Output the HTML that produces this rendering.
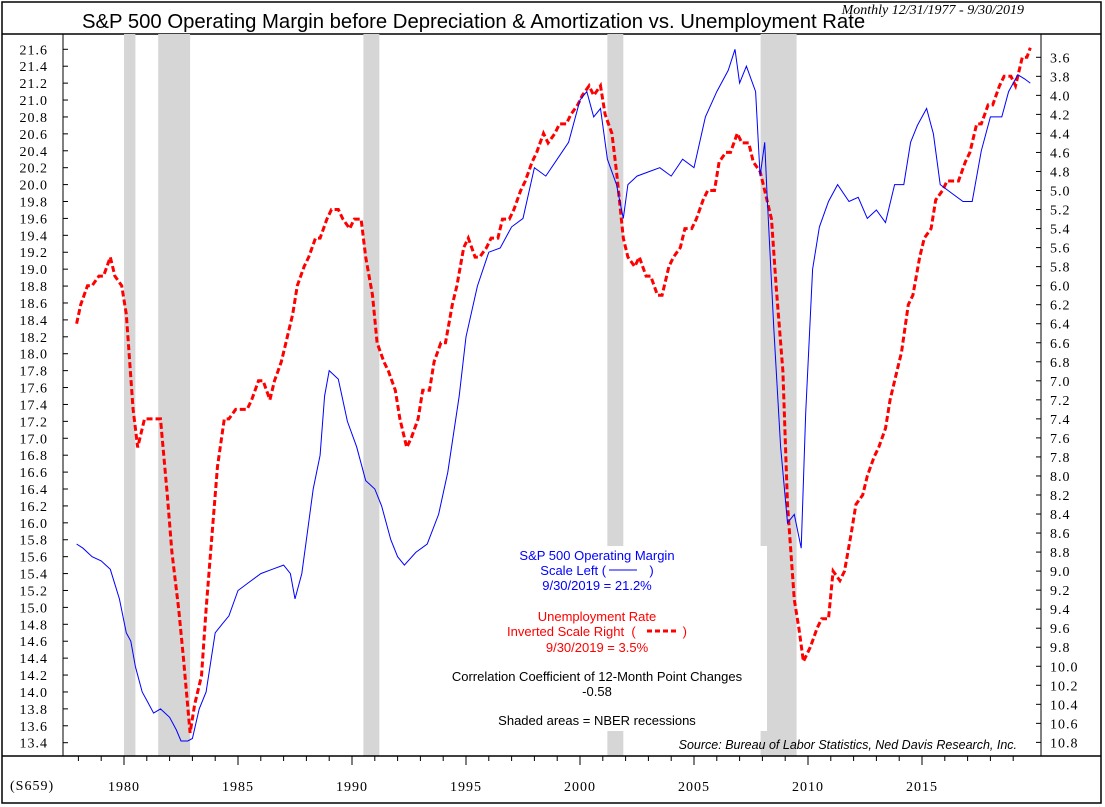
<!DOCTYPE html>
<html><head><meta charset="utf-8"><style>
body{margin:0;background:#fff;}
svg{display:block;}
.ax{font-family:"Liberation Serif",serif;font-size:14px;fill:#000;letter-spacing:1px}
.s{font-family:"Liberation Sans",sans-serif;font-size:13px}
.pre{white-space:pre}
</style></head><body>
<svg id="c" width="1105" height="807" xmlns="http://www.w3.org/2000/svg">
<rect x="2" y="2" width="1099" height="801" fill="#fff" stroke="#000" stroke-width="1.5"/>
<line x1="2" y1="34" x2="1101" y2="34" stroke="#000" stroke-width="1.5"/>
<text x="82" y="28" font-family="Liberation Sans,sans-serif" font-size="20.3">S&amp;P 500 Operating Margin before Depreciation &amp; Amortization vs. Unemployment Rate</text>
<text x="1024" y="14" text-anchor="end" font-family="Liberation Serif,serif" font-style="italic" font-size="14">Monthly 12/31/1977 - 9/30/2019</text>
<g id="shade"></g>
<rect x="440" y="546" width="327" height="185" fill="#fff"/>
<g id="lines"></g>
<line x1="63" y1="34" x2="63" y2="756" stroke="#000"/>
<line x1="1041" y1="34" x2="1041" y2="756" stroke="#000"/>
<line x1="2" y1="756" x2="1101" y2="756" stroke="#000" stroke-width="1.5"/>
<g id="axes"></g>
<text x="10" y="790" class="ax">(S659)</text>
<g class="s" text-anchor="middle">
<text x="597" y="560" fill="#0000ff">S&amp;P 500 Operating Margin</text>
<text x="597" y="575" fill="#0000ff" class="pre">Scale Left (            )</text>
<line x1="609" y1="570" x2="637" y2="570" stroke="#0000ff"/>
<text x="597" y="590" fill="#0000ff">9/30/2019 = 21.2%</text>
<text x="597" y="621" fill="#ff0000">Unemployment Rate</text>
<text x="597" y="636" fill="#ff0000" class="pre">Inverted Scale Right  (             )</text>
<line x1="647" y1="631" x2="677" y2="631" stroke="#ff0000" stroke-width="3" stroke-dasharray="5,3"/>
<text x="597" y="652" fill="#ff0000">9/30/2019 = 3.5%</text>
<text x="597" y="681" fill="#000">Correlation Coefficient of 12-Month Point Changes</text>
<text x="597" y="696" fill="#000">-0.58</text>
<text x="597" y="725" fill="#000">Shaded areas = NBER recessions</text>
</g>
<text x="1017" y="749" text-anchor="end" font-family="Liberation Sans,sans-serif" font-style="italic" font-size="12.5">Source: Bureau of Labor Statistics, Ned Davis Research, Inc.</text>
</svg>
<script>
const recStart=[1980.0,1981.5,1990.5,2001.2,2007.92];
const recEnd=[1980.5,1982.9,1991.2,2001.9,2009.5];
const leftTicks=[21.6,21.4,21.2,21.0,20.8,20.6,20.4,20.2,20.0,19.8,19.6,19.4,19.2,19.0,18.8,18.6,18.4,18.2,18.0,17.8,17.6,17.4,17.2,17.0,16.8,16.6,16.4,16.2,16.0,15.8,15.6,15.4,15.2,15.0,14.8,14.6,14.4,14.2,14.0,13.8,13.6,13.4];
const rightTicks=[3.6,3.8,4.0,4.2,4.4,4.6,4.8,5.0,5.2,5.4,5.6,5.8,6.0,6.2,6.4,6.6,6.8,7.0,7.2,7.4,7.6,7.8,8.0,8.2,8.4,8.6,8.8,9.0,9.2,9.4,9.6,9.8,10.0,10.2,10.4,10.6,10.8];
const yearLabels=[1980,1985,1990,1995,2000,2005,2010,2015];
const marginDates=[1977.92,1978.2,1978.6,1979.0,1979.4,1979.8,1980.1,1980.3,1980.5,1980.8,1981.0,1981.3,1981.6,1982.0,1982.3,1982.5,1982.8,1983.0,1983.3,1983.6,1984.0,1984.3,1984.6,1985.0,1985.5,1986.0,1986.5,1987.0,1987.3,1987.5,1987.8,1988.0,1988.3,1988.6,1988.8,1989.0,1989.4,1989.8,1990.2,1990.6,1991.0,1991.3,1991.7,1992.0,1992.3,1992.8,1993.3,1993.8,1994.2,1994.7,1995.0,1995.5,1996.0,1996.5,1997.0,1997.5,1998.0,1998.5,1999.0,1999.5,2000.0,2000.3,2000.6,2000.9,2001.2,2001.6,2001.9,2002.1,2002.5,2003.0,2003.5,2004.0,2004.5,2005.0,2005.5,2006.0,2006.5,2006.8,2007.0,2007.3,2007.7,2007.9,2008.1,2008.2,2008.5,2008.8,2009.1,2009.4,2009.7,2009.9,2010.2,2010.5,2010.9,2011.3,2011.8,2012.2,2012.6,2013.0,2013.4,2013.8,2014.2,2014.5,2014.8,2015.2,2015.5,2015.8,2016.3,2016.8,2017.2,2017.6,2018.0,2018.5,2018.8,2019.2,2019.5,2019.75];
const marginVals=[15.75,15.7,15.6,15.55,15.45,15.1,14.7,14.6,14.3,14.0,13.9,13.75,13.8,13.7,13.55,13.42,13.42,13.45,13.8,14.0,14.7,14.8,14.9,15.2,15.3,15.4,15.45,15.5,15.4,15.1,15.4,15.8,16.4,16.8,17.5,17.8,17.7,17.2,16.9,16.5,16.4,16.2,15.8,15.6,15.5,15.65,15.75,16.1,16.6,17.5,18.2,18.8,19.2,19.25,19.5,19.6,20.2,20.1,20.3,20.5,21.0,21.1,20.8,20.9,20.3,20.0,19.6,20.0,20.1,20.15,20.2,20.1,20.3,20.2,20.8,21.1,21.35,21.6,21.2,21.4,21.1,20.1,20.5,19.9,18.3,16.9,16.0,16.1,15.7,17.3,19.0,19.5,19.8,20.0,19.8,19.85,19.6,19.7,19.55,20.0,20.0,20.5,20.7,20.9,20.6,20.0,19.9,19.8,19.8,20.4,20.8,20.8,21.1,21.3,21.25,21.2];
const unempDates=[1977.92,1978.1,1978.4,1978.6,1978.9,1979.1,1979.4,1979.6,1979.9,1980.1,1980.4,1980.6,1980.9,1981.1,1981.4,1981.6,1981.9,1982.1,1982.4,1982.6,1982.9,1983.1,1983.4,1983.6,1983.9,1984.1,1984.4,1984.6,1984.9,1985.1,1985.4,1985.6,1985.9,1986.1,1986.4,1986.6,1986.9,1987.1,1987.4,1987.6,1987.9,1988.1,1988.4,1988.6,1988.9,1989.1,1989.4,1989.6,1989.9,1990.1,1990.4,1990.6,1990.9,1991.1,1991.4,1991.6,1991.9,1992.1,1992.4,1992.6,1992.9,1993.1,1993.4,1993.6,1993.9,1994.1,1994.4,1994.6,1994.9,1995.1,1995.4,1995.6,1995.9,1996.1,1996.4,1996.6,1996.9,1997.1,1997.4,1997.6,1997.9,1998.1,1998.4,1998.6,1998.9,1999.1,1999.4,1999.6,1999.9,2000.1,2000.4,2000.6,2000.9,2001.1,2001.4,2001.6,2001.9,2002.1,2002.4,2002.6,2002.9,2003.1,2003.4,2003.6,2003.9,2004.1,2004.4,2004.6,2004.9,2005.1,2005.4,2005.6,2005.9,2006.1,2006.4,2006.6,2006.9,2007.1,2007.4,2007.6,2007.9,2008.1,2008.4,2008.6,2008.9,2009.1,2009.4,2009.6,2009.8,2010.1,2010.4,2010.6,2010.9,2011.1,2011.4,2011.6,2011.9,2012.1,2012.4,2012.6,2012.9,2013.1,2013.4,2013.6,2013.9,2014.1,2014.4,2014.6,2014.9,2015.1,2015.4,2015.6,2015.9,2016.1,2016.4,2016.6,2016.9,2017.1,2017.4,2017.6,2017.9,2018.1,2018.4,2018.6,2018.9,2019.1,2019.4,2019.6,2019.75];
const unempVals=[6.4,6.2,6.0,6.0,5.9,5.9,5.7,5.9,6.0,6.3,7.3,7.7,7.4,7.4,7.4,7.4,8.2,8.8,9.4,9.9,10.7,10.4,10.1,9.4,8.5,7.9,7.4,7.4,7.3,7.3,7.3,7.2,7.0,7.0,7.2,7.0,6.8,6.6,6.3,6.0,5.8,5.7,5.5,5.5,5.3,5.2,5.2,5.3,5.4,5.3,5.3,5.7,6.1,6.6,6.8,6.9,7.1,7.4,7.7,7.6,7.4,7.1,7.1,6.8,6.6,6.6,6.2,6.0,5.6,5.5,5.7,5.7,5.6,5.5,5.5,5.3,5.3,5.2,5.0,4.9,4.7,4.6,4.4,4.5,4.4,4.3,4.3,4.2,4.1,4.0,3.9,4.0,3.9,4.2,4.4,4.8,5.5,5.7,5.8,5.7,5.9,5.9,6.1,6.1,5.8,5.7,5.6,5.4,5.4,5.3,5.1,5.0,5.0,4.7,4.6,4.6,4.4,4.5,4.5,4.7,4.8,5.0,5.3,6.0,6.9,8.3,9.3,9.6,9.95,9.8,9.6,9.5,9.5,9.0,9.1,9.0,8.6,8.3,8.2,8.0,7.8,7.7,7.5,7.2,6.9,6.7,6.2,6.1,5.7,5.5,5.4,5.1,5.0,4.9,4.9,4.9,4.7,4.6,4.3,4.3,4.1,4.1,3.9,3.8,3.8,3.9,3.6,3.6,3.5];

const X=t=>124+(t-1980)*22.8;
const YL=v=>49.3+(21.6-v)*84.56;
const YR=u=>57.3+(u-3.6)*95.15;
const NS='http://www.w3.org/2000/svg';
function mk(tag,parent,attrs){const e=document.createElementNS(NS,tag);for(const k in attrs)e.setAttribute(k,attrs[k]);parent.appendChild(e);return e;}
const shade=document.getElementById('shade'),lines=document.getElementById('lines'),axes=document.getElementById('axes');
recStart.forEach((s,i)=>{
  const r=mk('rect',shade,{x:X(s),y:34,width:X(recEnd[i])-X(s),height:722,fill:'#d6d6d6'});
  
  
});
leftTicks.forEach(v=>{
  const l=mk('line',axes,{x1:63,x2:68,y1:YL(v),y2:YL(v),stroke:'#000'});
  
  
  const t=mk('text',axes,{x:48,y:YL(v)+5,'text-anchor':'end',class:'ax'});
  t.textContent=v.toFixed(1);
  
  
});
rightTicks.forEach(u=>{
  const l=mk('line',axes,{x1:1036,x2:1041,y1:YR(u),y2:YR(u),stroke:'#000'});
  
  
  const t=mk('text',axes,{x:1050,y:YR(u)+5,class:'ax'});
  t.textContent=u.toFixed(1);
  
  
});
for(let y=1978;y<=2019;y++){
  const major=y%5===0;
  const l=mk('line',axes,{x1:X(y),x2:X(y),y1:756,y2:major?765:761,stroke:'#000'});
  
  
}
yearLabels.forEach(y=>{
  const t=mk('text',axes,{x:X(y),y:791,'text-anchor':'middle',class:'ax'});
  t.textContent=y;
  
  
});
const pu=unempDates.map((d,i)=>X(d).toFixed(1)+','+YR(unempVals[i]).toFixed(1)).join(' ');
const red=mk('polyline',lines,{points:pu,fill:'none',stroke:'#ff0000','stroke-width':3,'stroke-dasharray':'6,3'});


const pm=marginDates.map((d,i)=>X(d).toFixed(1)+','+YL(marginVals[i]).toFixed(1)).join(' ');
const blue=mk('polyline',lines,{points:pm,fill:'none',stroke:'#0000ff','stroke-width':1});


</script>
</body></html>
